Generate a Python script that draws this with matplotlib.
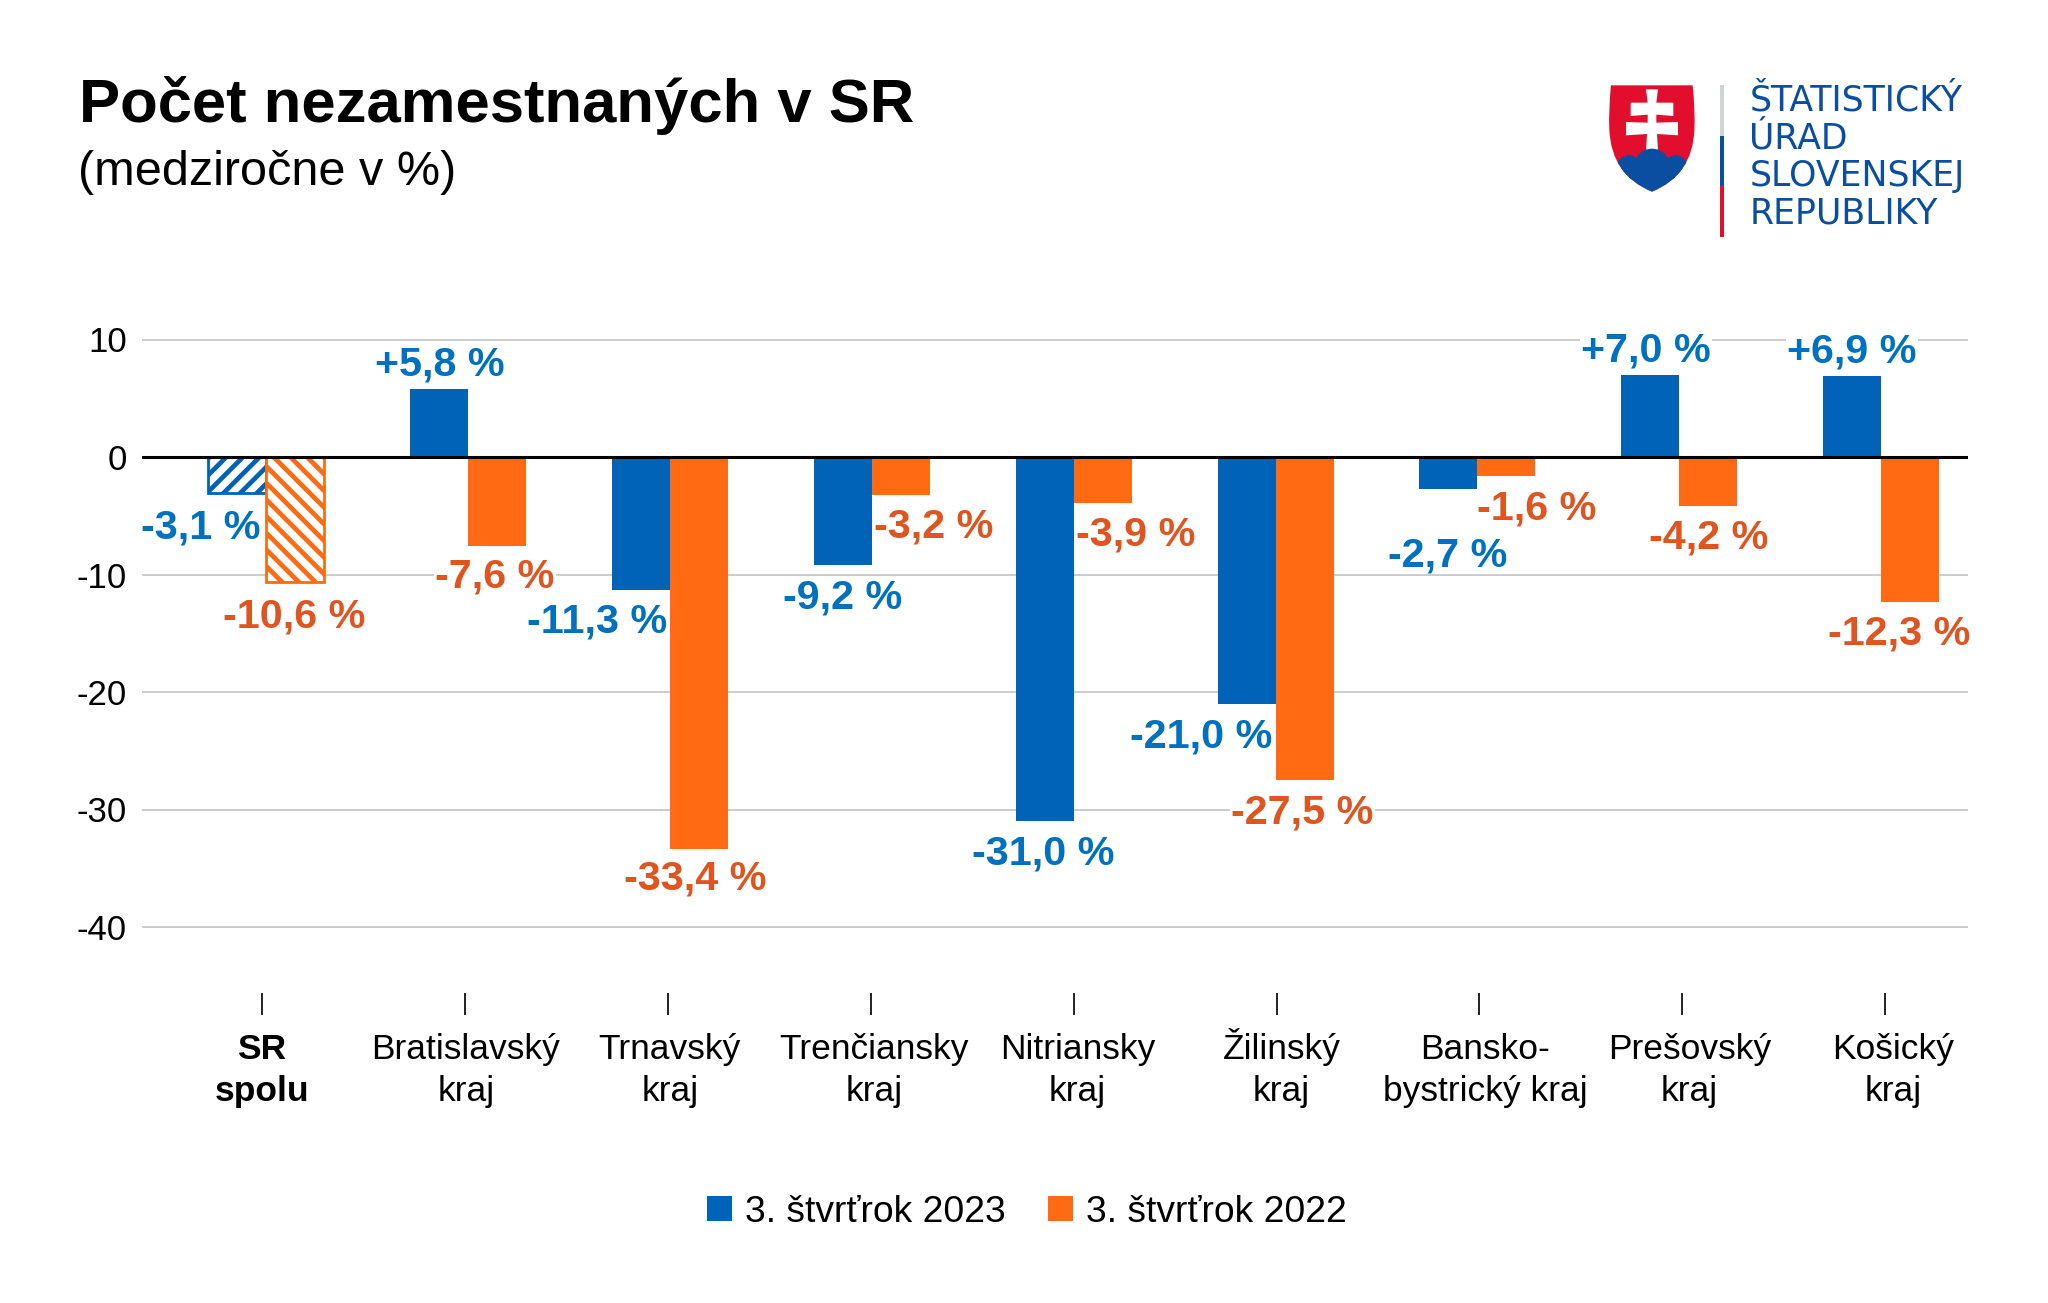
import matplotlib
matplotlib.use('Agg')
import matplotlib.pyplot as plt
from matplotlib.patches import Patch, PathPatch, Polygon, Circle, Rectangle
from matplotlib.path import Path
import numpy as np

plt.rcParams['font.family'] = ['Liberation Sans', 'DejaVu Sans']
plt.rcParams['hatch.linewidth'] = 3.4

# Data
kraje = ['SR\nspolu', 'Bratislavský\nkraj', 'Trnavský\nkraj', 'Trenčiansky\nkraj', 'Nitriansky\nkraj',
         'Žilinský\nkraj', 'Bansko-\nbystrický kraj', 'Prešovský\nkraj', 'Košický\nkraj']
q3_2023 = [-3.1, 5.8, -11.3, -9.2, -31.0, -21.0, -2.7, 7.0, 6.9]
q3_2022 = [-10.6, -7.6, -33.4, -3.2, -3.9, -27.5, -1.6, -4.2, -12.3]
labels_2023 = ['-3,1 %', '+5,8 %', '-11,3 %', '-9,2 %', '-31,0 %', '-21,0 %', '-2,7 %', '+7,0 %', '+6,9 %']
labels_2022 = ['-10,6 %', '-7,6 %', '-33,4 %', '-3,2 %', '-3,9 %', '-27,5 %', '-1,6 %', '-4,2 %', '-12,3 %']
y_ticks = [10, 0, -10, -20, -30, -40]
legend_names = ['3. štvrťrok 2023', '3. štvrťrok 2022']

# Posuny popiskov v pixeloch od konca stlpca
offsets_2023 = [(-36, -34), (1, 24), (-44, -32), (0, -32), (-1, -32), (-45, -33), (-1, -67), (-4, 24), (0, 24)]
offsets_2022 = [(-1, -35), (-2, -30), (-4, -29), (33, -32), (33, -32), (-2, -32), (30, -33), (0, -31), (-11, -32)]

BLUE = '#0063B7'
ORANGE = '#FF6A13'
BLUE_TEXT = '#0070C0'
ORANGE_TEXT = '#E05420'
LOGO_BLUE = '#0A4EA2'
LOGO_RED = '#E30D2E'

W, H = 2048, 1303
fig = plt.figure(figsize=(W / 100, H / 100), dpi=100, facecolor='white')

# Osi: 1 kategoria = 201.9 px, 1 % = 11.75 px
left, right, top, bottom = 142, 1968, 316, 993
ax = fig.add_axes([left / W, 1 - bottom / H, (right - left) / W, (bottom - top) / H])
ax.set_xlim((left - 266) / 201.9, (right - 266) / 201.9)
ax.set_ylim((457 - bottom) / 11.75, (457 - top) / 11.75)

x = np.arange(len(kraje))
width = 58 / 201.9
bars_a = ax.bar(x - width / 2, q3_2023, width, color=BLUE, zorder=3)
bars_b = ax.bar(x + width / 2, q3_2022, width, color=ORANGE, zorder=3)

# SR spolu je srafovane
bars_a[0].set(facecolor='white', edgecolor=BLUE, hatch='//', linewidth=2)
bars_b[0].set(facecolor='white', edgecolor=ORANGE, hatch='\\\\', linewidth=2)

ax.axhline(0, color='black', lw=2.2, zorder=4)
ax.set_yticks(y_ticks)
ax.yaxis.grid(True, color='#BFBFBF', lw=1.1, zorder=0)
ax.set_axisbelow(True)
ax.tick_params(axis='y', length=0, pad=11, labelsize=25)
ax.set_yticklabels([str(v) for v in y_ticks])
for s in ax.spines.values():
    s.set_visible(False)

# Ciarky a popisky osi x nesedia presne na stlpce
tick_pos = (262 - 266 + 202.9 * x) / 201.9
label_pos = (262 - 266 + 203.9 * x) / 201.9
ax.xaxis.remove_overlapping_locs = False
ax.set_xticks(tick_pos)
ax.set_xticklabels([])
ax.set_xticks(label_pos, kraje, minor=True, fontsize=25.5, linespacing=1.36, va='baseline')
ax.tick_params(axis='x', which='major', length=15.5, width=1.4, color='#222222', direction='out')
ax.tick_params(axis='x', which='minor', length=0, pad=78)
ax.get_xticklabels(minor=True)[0].set_fontweight('bold')


def add_labels(xs, values, texts, offsets, color):
    for xi, v, t, (dx, dy) in zip(xs, values, texts, offsets):
        # popisok cez ciaru mriezky ma biele pozadie
        crossing = min(abs(v * 11.75 + dy - g * 11.75) for g in y_ticks if g != 0) < 14
        box = dict(facecolor='white', edgecolor='none', pad=1) if crossing else None
        ax.annotate(t, xy=(xi, v), xytext=(dx, dy), textcoords='offset pixels', ha='center', va='center',
                    color=color, fontsize=29.7, fontweight='bold', zorder=5, bbox=box, annotation_clip=False)


add_labels(x - width / 2, q3_2023, labels_2023, offsets_2023, BLUE_TEXT)
add_labels(x + width / 2, q3_2022, labels_2022, offsets_2022, ORANGE_TEXT)

handles = [Patch(facecolor=BLUE, edgecolor='none'), Patch(facecolor=ORANGE, edgecolor='none')]
fig.legend(handles, legend_names, ncol=2, loc='center left', bbox_to_anchor=(707 / W, 1 - 1212 / H),
           frameon=False, fontsize=26.8, borderpad=0, borderaxespad=0, handlelength=0.67, handleheight=0.67,
           handletextpad=0.36, columnspacing=1.12, labelcolor='black')

# Nadpis a logo v pixelovych suradniciach
over = fig.add_axes([0, 0, 1, 1], zorder=10)
over.set_xlim(0, W)
over.set_ylim(H, 0)
over.axis('off')
over.patch.set_alpha(0)
over.text(79, 122, 'Počet nezamestnaných v SR', fontsize=44.4, fontweight='bold', ha='left', va='baseline')
over.text(78, 185, '(medziročne v %)', fontsize=35, ha='left', va='baseline')


def z(px, py):
    # suradnice z vyrezu loga
    return (1580 + px / 3, 60 + py / 3)


shield = Path([z(93, 76), z(338, 76), z(346, 150), z(343, 210), z(338, 345), z(216, 395), z(94, 345), z(88, 210),
               z(85, 150), z(93, 76), z(93, 76)],
              [Path.MOVETO, Path.LINETO, Path.CURVE3, Path.CURVE3, Path.CURVE3, Path.CURVE3, Path.CURVE3,
               Path.CURVE3, Path.CURVE3, Path.CURVE3, Path.CLOSEPOLY])
red = PathPatch(shield, facecolor=LOGO_RED, edgecolor='none')
over.add_patch(red)
hills = [Circle(z(146, 322), 12, fc=LOGO_BLUE, ec='none'), Circle(z(216, 320), 18, fc=LOGO_BLUE, ec='none'),
         Circle(z(287, 322), 12, fc=LOGO_BLUE, ec='none'),
         Rectangle(z(100, 322), 80, 50, fc=LOGO_BLUE, ec='none')]
for h in [Polygon([z(198, 88), z(234, 88), z(229, 128), z(280, 128), z(280, 168), z(229, 164), z(229, 188),
                   z(294, 186), z(294, 226), z(231, 222), z(234, 272), z(198, 272), z(201, 222), z(138, 226),
                   z(138, 186), z(203, 188), z(203, 164), z(152, 168), z(152, 128), z(203, 128)],
                  closed=True, fc='white', ec='none')] + hills:
    over.add_patch(h)
    h.set_clip_path(red)

over.add_patch(Rectangle(z(420, 76), 4, 152 / 3, fc='#D1D3D4', ec='none'))
over.add_patch(Rectangle(z(420, 228), 4, 150 / 3, fc=LOGO_BLUE, ec='none'))
over.add_patch(Rectangle(z(420, 378), 4, 152 / 3, fc=LOGO_RED, ec='none'))
for line, base in zip(['ŠTATISTICKÝ', 'ÚRAD', 'SLOVENSKEJ', 'REPUBLIKY'], [152, 265, 378, 490]):
    px, py = z(508, base)
    over.text(px, py, line, family=['DejaVu Sans'], fontsize=25, color=LOGO_BLUE, ha='left', va='baseline')

fig.savefig('out.png', dpi=100, facecolor='white')
